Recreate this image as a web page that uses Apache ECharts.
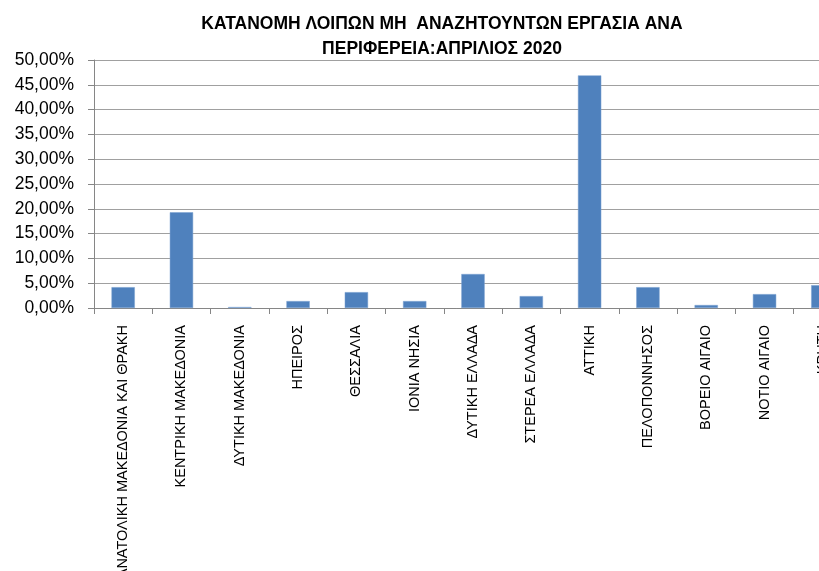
<!DOCTYPE html>
<html>
<head>
<meta charset="utf-8">
<script src="https://cdn.jsdelivr.net/npm/echarts@6/dist/echarts.min.js"></script>
<style>
  html, body { margin: 0; padding: 0; background: #fff; }
  #chart { width: 819px; height: 571px; }
</style>
</head>
<body>
<div id="chart"></div>
<script>
const titleLines = ['ΚΑΤΑΝΟΜΗ ΛΟΙΠΩΝ ΜΗ  ΑΝΑΖΗΤΟΥΝΤΩΝ ΕΡΓΑΣΙΑ ΑΝΑ', 'ΠΕΡΙΦΕΡΕΙΑ:ΑΠΡΙΛΙΟΣ 2020'];
const regions = [
  'ΑΝΑΤΟΛΙΚΗ ΜΑΚΕΔΟΝΙΑ ΚΑΙ ΘΡΑΚΗ',
  'ΚΕΝΤΡΙΚΗ ΜΑΚΕΔΟΝΙΑ',
  'ΔΥΤΙΚΗ ΜΑΚΕΔΟΝΙΑ',
  'ΗΠΕΙΡΟΣ',
  'ΘΕΣΣΑΛΙΑ',
  'ΙΟΝΙΑ ΝΗΣΙΑ',
  'ΔΥΤΙΚΗ ΕΛΛΑΔΑ',
  'ΣΤΕΡΕΑ ΕΛΛΑΔΑ',
  'ΑΤΤΙΚΗ',
  'ΠΕΛΟΠΟΝΝΗΣΟΣ',
  'ΒΟΡΕΙΟ ΑΙΓΑΙΟ',
  'ΝΟΤΙΟ ΑΙΓΑΙΟ',
  'ΚΡΗΤΗ'
];
// share of the unemployed, percent
const shares = [4.2, 19.3, 0.2, 1.4, 3.2, 1.4, 6.85, 2.4, 46.9, 4.2, 0.6, 2.8, 4.6];
const yMin = 0;
const yMax = 50;
const yStep = 5;

const chart = echarts.init(document.getElementById('chart'));
chart.setOption({
  animation: false,
  backgroundColor: '#fff',
  textStyle: { fontFamily: 'Liberation Sans, Arial, sans-serif' },
  title: {
    text: titleLines.join('\n'),
    left: 437,
    top: 7,
    textAlign: 'center',
    textStyle: { fontSize: 17.5, fontWeight: 'bold', color: '#000', lineHeight: 25 }
  },
  // the plot runs past the right edge of the picture, as in the original
  grid: { left: 94, width: 758, top: 60, height: 248, outerBoundsMode: 'none', containLabel: false },
  xAxis: {
    type: 'category',
    data: regions,
    boundaryGap: true,
    axisLine: { lineStyle: { color: '#868686' } },
    axisTick: { show: true, length: 6, lineStyle: { color: '#868686' } },
    axisLabel: { interval: 0, rotate: 90, margin: 17, fontSize: 14.5, color: '#000' }
  },
  yAxis: {
    type: 'value',
    min: yMin,
    max: yMax,
    interval: yStep,
    axisLine: { show: true, lineStyle: { color: '#868686' } },
    axisTick: { show: true, length: 6, lineStyle: { color: '#868686' } },
    splitLine: { lineStyle: { color: '#a0a0a0' } },
    axisLabel: {
      margin: 20,
      fontSize: 17.5,
      color: '#000',
      formatter: (value) => value.toFixed(2).replace('.', ',') + '%'
    }
  },
  series: [
    {
      type: 'bar',
      data: shares,
      barCategoryGap: '60%',
      itemStyle: { color: '#4F81BD', borderColor: '#7aa0d0', borderWidth: 0.5 }
    }
  ]
});
</script>
</body>
</html>
